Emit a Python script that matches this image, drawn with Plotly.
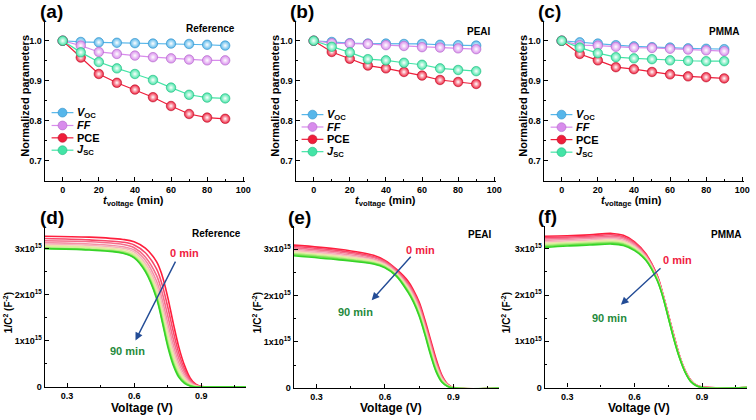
import plotly.graph_objects as go

# ---------------- data: normalized parameters vs time ----------------
t_min = [0, 10, 20, 30, 40, 50, 60, 70, 80, 90]

ref_voc = [1.0, 0.997, 0.996, 0.995, 0.994, 0.993, 0.993, 0.992, 0.990, 0.988]
ref_ff = [1.0, 0.988, 0.972, 0.967, 0.963, 0.959, 0.956, 0.953, 0.951, 0.951]
ref_pce = [1.0, 0.958, 0.917, 0.895, 0.878, 0.859, 0.837, 0.817, 0.808, 0.805]
ref_jsc = [1.0, 0.971, 0.947, 0.931, 0.917, 0.902, 0.883, 0.865, 0.858, 0.856]

peai_voc = [1.0, 0.997, 0.994, 0.993, 0.993, 0.992, 0.992, 0.990, 0.989, 0.988]
peai_ff = [1.0, 0.994, 0.993, 0.992, 0.989, 0.987, 0.984, 0.983, 0.981, 0.979]
peai_pce = [1.0, 0.972, 0.955, 0.938, 0.931, 0.922, 0.913, 0.902, 0.897, 0.892]
peai_jsc = [1.0, 0.985, 0.971, 0.954, 0.951, 0.945, 0.940, 0.931, 0.927, 0.924]

pmma_voc = [1.0, 0.996, 0.993, 0.989, 0.986, 0.984, 0.983, 0.981, 0.980, 0.979]
pmma_ff = [1.0, 0.989, 0.988, 0.985, 0.983, 0.982, 0.980, 0.978, 0.976, 0.974]
pmma_pce = [1.0, 0.967, 0.951, 0.934, 0.929, 0.922, 0.916, 0.911, 0.909, 0.906]
pmma_jsc = [1.0, 0.983, 0.969, 0.959, 0.956, 0.954, 0.951, 0.950, 0.949, 0.949]

# ---------------- data: 1/C^2 (in 1e15 F^-2) vs voltage ----------------
cv_times = [0, 10, 20, 30, 40, 50, 60, 70, 80, 90]

v_ref = [0.2, 0.4, 0.55, 0.6, 0.65, 0.7, 0.725, 0.75, 0.775, 0.8, 0.825, 0.85, 0.875, 0.9, 1.1]
cv_ref = [
    [3.27, 3.25, 3.20, 3.15, 3.01, 2.72, 2.42, 1.95, 1.38, 0.86, 0.47, 0.20, 0.06, 0.01, 0],
    [3.22, 3.19, 3.14, 3.08, 2.91, 2.56, 2.22, 1.74, 1.20, 0.73, 0.39, 0.16, 0.05, 0.01, 0],
    [3.17, 3.15, 3.09, 3.02, 2.82, 2.42, 2.05, 1.55, 1.04, 0.62, 0.33, 0.13, 0.04, 0.01, 0],
    [3.13, 3.10, 3.04, 2.97, 2.75, 2.30, 1.90, 1.39, 0.91, 0.52, 0.27, 0.11, 0.03, 0.005, 0],
    [3.10, 3.07, 3.01, 2.93, 2.68, 2.21, 1.78, 1.27, 0.80, 0.44, 0.22, 0.09, 0.02, 0, 0],
    [3.07, 3.04, 2.98, 2.89, 2.63, 2.13, 1.68, 1.16, 0.71, 0.38, 0.18, 0.07, 0.02, 0, 0],
    [3.05, 3.02, 2.95, 2.86, 2.59, 2.06, 1.59, 1.06, 0.63, 0.32, 0.15, 0.05, 0.01, 0, 0],
    [3.02, 2.99, 2.93, 2.83, 2.55, 1.99, 1.51, 0.98, 0.55, 0.27, 0.12, 0.04, 0.005, 0, 0],
    [3.01, 2.98, 2.91, 2.81, 2.52, 1.95, 1.46, 0.92, 0.51, 0.24, 0.10, 0.03, 0, 0, 0],
    [3.00, 2.97, 2.90, 2.80, 2.50, 1.92, 1.42, 0.88, 0.47, 0.21, 0.08, 0.02, 0, 0, 0],
]

v_peai = [0.2, 0.4, 0.55, 0.6, 0.65, 0.7, 0.725, 0.75, 0.775, 0.8, 0.825, 0.85, 0.875, 0.9, 1.1]
cv_peai = [
    [3.09, 3.00, 2.87, 2.76, 2.57, 2.32, 2.12, 1.86, 1.48, 1.05, 0.62, 0.28, 0.09, 0.02, 0],
    [3.06, 2.97, 2.84, 2.74, 2.55, 2.28, 2.08, 1.82, 1.43, 1.00, 0.58, 0.26, 0.08, 0.018, 0],
    [3.03, 2.94, 2.82, 2.72, 2.53, 2.25, 2.05, 1.78, 1.39, 0.96, 0.54, 0.24, 0.08, 0.016, 0],
    [3.00, 2.91, 2.79, 2.70, 2.51, 2.22, 2.02, 1.74, 1.35, 0.92, 0.51, 0.22, 0.07, 0.014, 0],
    [2.97, 2.88, 2.77, 2.68, 2.49, 2.20, 1.98, 1.70, 1.31, 0.88, 0.48, 0.20, 0.064, 0.012, 0],
    [2.945, 2.855, 2.75, 2.66, 2.475, 2.17, 1.955, 1.67, 1.28, 0.84, 0.45, 0.185, 0.06, 0.01, 0],
    [2.92, 2.83, 2.73, 2.64, 2.46, 2.145, 1.93, 1.64, 1.245, 0.81, 0.42, 0.17, 0.054, 0.009, 0],
    [2.90, 2.81, 2.71, 2.63, 2.445, 2.12, 1.90, 1.61, 1.215, 0.78, 0.40, 0.155, 0.05, 0.007, 0],
    [2.88, 2.79, 2.695, 2.61, 2.43, 2.10, 1.88, 1.58, 1.185, 0.75, 0.37, 0.14, 0.044, 0.006, 0],
    [2.86, 2.77, 2.68, 2.60, 2.42, 2.08, 1.86, 1.56, 1.16, 0.72, 0.35, 0.13, 0.04, 0.005, 0],
]

v_pmma = [0.2, 0.3, 0.4, 0.5, 0.55, 0.6, 0.65, 0.7, 0.725, 0.75, 0.775, 0.8, 0.825, 0.85, 0.875, 0.9, 1.1]
cv_pmma = [
    [3.27, 3.28, 3.30, 3.33, 3.29, 3.15, 2.89, 2.43, 2.04, 1.58, 1.12, 0.69, 0.37, 0.16, 0.05, 0.01, 0],
    [3.24, 3.25, 3.27, 3.30, 3.26, 3.13, 2.87, 2.42, 2.03, 1.57, 1.11, 0.68, 0.37, 0.16, 0.05, 0.01, 0],
    [3.21, 3.225, 3.245, 3.27, 3.235, 3.10, 2.855, 2.40, 2.02, 1.56, 1.10, 0.68, 0.36, 0.15, 0.05, 0.008, 0],
    [3.18, 3.20, 3.22, 3.24, 3.21, 3.08, 2.84, 2.39, 2.01, 1.55, 1.09, 0.67, 0.355, 0.15, 0.046, 0.006, 0],
    [3.15, 3.17, 3.19, 3.215, 3.18, 3.055, 2.82, 2.375, 2.005, 1.545, 1.08, 0.665, 0.35, 0.145, 0.045, 0.005, 0],
    [3.12, 3.14, 3.16, 3.19, 3.155, 3.03, 2.80, 2.36, 1.995, 1.535, 1.07, 0.66, 0.345, 0.14, 0.044, 0.004, 0],
    [3.095, 3.12, 3.14, 3.16, 3.13, 3.01, 2.79, 2.35, 1.99, 1.53, 1.06, 0.655, 0.34, 0.138, 0.043, 0.003, 0],
    [3.07, 3.10, 3.12, 3.14, 3.11, 2.99, 2.77, 2.34, 1.98, 1.52, 1.055, 0.65, 0.337, 0.135, 0.042, 0.002, 0],
    [3.05, 3.08, 3.10, 3.12, 3.09, 2.975, 2.76, 2.33, 1.975, 1.515, 1.045, 0.644, 0.333, 0.132, 0.041, 0.001, 0],
    [3.03, 3.06, 3.08, 3.10, 3.07, 2.96, 2.75, 2.32, 1.97, 1.51, 1.04, 0.64, 0.33, 0.13, 0.04, 0, 0],
]

cv_colors = ["#ff1f3d", "#f8486a", "#f56d8a", "#f590a5", "#f5b3be",
             "#f2dcb0", "#d9f09c", "#aeea7c", "#76e152", "#36d428"]

param_names = ["<i>V</i><sub>OC</sub>", "<i>FF</i>", "PCE", "<i>J</i><sub>SC</sub>"]
param_colors = ["#56b6ea", "#d88cec", "#ef1d3a", "#43e4a6"]
param_edges = ["#2f8fc8", "#b066c8", "#b8102a", "#20b880"]

FONT = "Liberation Sans, Arial, sans-serif"
W, H = 756, 420

fig = go.Figure()

top_sets = [
    ([ref_voc, ref_ff, ref_pce, ref_jsc], ""),
    ([peai_voc, peai_ff, peai_pce, peai_jsc], "2"),
    ([pmma_voc, pmma_ff, pmma_pce, pmma_jsc], "3"),
]
for series, ax in top_sets:
    for name, vals, col, edge in zip(param_names, series, param_colors, param_edges):
        fig.add_trace(go.Scatter(
            x=t_min, y=vals, name=name, mode="lines+markers", showlegend=False,
            xaxis="x" + ax, yaxis="y" + ax,
            line=dict(color=col, width=1.2),
            marker=dict(size=9.5, color=col, line=dict(color=edge, width=0.6),
                        gradient=dict(type="radial", color="#ffffff")),
        ))

bottom_sets = [(v_ref, cv_ref, "4"), (v_peai, cv_peai, "5"), (v_pmma, cv_pmma, "6")]
for vgrid, curves, ax in bottom_sets:
    for tm, curve, col in zip(cv_times, curves, cv_colors):
        fig.add_trace(go.Scatter(
            x=vgrid, y=[c * 1e15 for c in curve], mode="lines", showlegend=False,
            name=f"{tm} min", xaxis="x" + ax, yaxis="y" + ax,
            line=dict(color=col, width=1.6, shape="spline", smoothing=1.0),
        ))

def px(x):
    return x / W

def py(y):
    return 1 - y / H

tickfont = dict(family=FONT, size=9, color="black", weight="bold")
axis_common = dict(showline=True, linecolor="black", linewidth=1.3, ticks="inside",
                   ticklen=4, tickwidth=1, tickcolor="black", showgrid=False,
                   zeroline=False, tickfont=tickfont, mirror=False)

top_dom_x = [(45, 247), (298, 500), (548, 750)]
top_dom_y = [py(183), py(21)]
for i, (x0, x1) in enumerate(top_dom_x):
    s = "" if i == 0 else str(i + 1)
    fig.update_layout(**{
        "xaxis" + s: dict(axis_common, domain=[px(x0), px(x1)], range=[-10, 101],
                          tick0=0, dtick=20, anchor="y" + s,
                          minor=dict(dtick=10, tick0=0, ticks="inside", ticklen=2, tickcolor="black")),
        "yaxis" + s: dict(axis_common, domain=top_dom_y, range=[0.65, 1.05],
                          tick0=0.7, dtick=0.1, tickformat=".1f", anchor="x" + s,
                          minor=dict(dtick=0.05, tick0=0.7, ticks="inside", ticklen=2, tickcolor="black")),
    })

bot_dom_x = [(45, 248), (296, 503), (549, 753)]
bot_dom_y = [(391.7, 228.3), (393, 228.8), (392.3, 228.3)]
ytv = [0, 1e15, 2e15, 3e15]
ytt = ["0", "1x10<sup>15</sup>", "2x10<sup>15</sup>", "3x10<sup>15</sup>"]
for i, ((x0, x1), (yb, yt)) in enumerate(zip(bot_dom_x, bot_dom_y)):
    s = str(i + 4)
    fig.update_layout(**{
        "xaxis" + s: dict(axis_common, domain=[px(x0), px(x1)], range=[0.2, 1.1],
                          tick0=0.3, dtick=0.3, tickformat=".1f", anchor="y" + s,
                          minor=dict(dtick=0.15, tick0=0.0, ticks="inside", ticklen=2, tickcolor="black")),
        "yaxis" + s: dict(axis_common, domain=[py(yb), py(yt)], range=[0, 3.5e15],
                          tickmode="array", tickvals=ytv, ticktext=ytt, anchor="x" + s,
                          minor=dict(tickmode="array", tickvals=[0.5e15, 1.5e15, 2.5e15, 3.5e15],
                                     ticks="inside", ticklen=2, tickcolor="black")),
    })

annotations = []
shapes = []

def ann(text, x, y, size=11, color="black", angle=0, xanchor="center", yanchor="middle"):
    annotations.append(dict(text=text, x=px(x), y=py(y), xref="paper", yref="paper",
                            showarrow=False, textangle=angle, xanchor=xanchor, yanchor=yanchor,
                            font=dict(family=FONT, size=size, color=color, weight="bold")))

# panel letters
for lab, x, y in [("(a)", 52, 12), ("(b)", 304, 12), ("(c)", 554, 12),
                  ("(d)", 52, 220), ("(e)", 302, 220), ("(f)", 552, 219)]:
    ann(lab, x, y, size=19)

# sample names
for lab, x, y in [("Reference", 239, 29), ("PEAI", 497, 32), ("PMMA", 748, 32),
                  ("Reference", 245, 236), ("PEAI", 498, 237), ("PMMA", 750, 237)]:
    ann(lab, x, y, size=10, xanchor="right")

# axis titles
for x in [25, 277, 527]:
    ann("Normalized parameters", x, 97, size=11, angle=-90)
for x in [135, 389, 637]:
    ann("<i>t</i><sub>voltage</sub> (min)", x, 203, size=11)
for x, y in [(143, 412.5), (394, 413.3), (644, 412.5)]:
    ann("Voltage (V)", x, y, size=12)
for x in [8, 259, 510]:
    ann("1/C<sup>2</sup> (F<sup>-2</sup>)", x, 316, size=10, angle=-90)

# compact legends (line + ball + label) for the three upper panels
legend_slots = [(63, [114, 127, 139.5, 152]), (315, [116, 128.5, 141, 153.5]),
                (566, [116, 128.7, 141.3, 154])]
for xm, ys in legend_slots:
    for name, col, edge, yy in zip(param_names, param_colors, param_edges, ys):
        shapes.append(dict(type="line", xref="paper", yref="paper",
                           x0=px(xm - 11), x1=px(xm + 11), y0=py(yy), y1=py(yy),
                           line=dict(color=col, width=1.2)))
        shapes.append(dict(type="circle", xref="paper", yref="paper",
                           x0=px(xm - 4.5), x1=px(xm + 4.5), y0=py(yy + 4.5), y1=py(yy - 4.5),
                           fillcolor=col, line=dict(color=edge, width=0.6)))
        annotations.append(dict(text=name, x=px(xm + 13), y=py(yy), xref="paper", yref="paper",
                                showarrow=False, xanchor="left", yanchor="middle",
                                font=dict(family=FONT, size=11, color="black", weight="bold")))

# arrows and time labels (in data coordinates of the C-V panels)
arrow_specs = [
    ("4", (0.788, 2.75), (0.606, 1.01), (0.825, 2.91), (0.569, 0.79)),
    ("5", (0.719, 2.87), (0.542, 1.90), (0.755, 2.98), (0.473, 1.64)),
    ("6", (0.722, 2.61), (0.539, 1.79), (0.789, 2.75), (0.487, 1.51)),
]
for s, start, end, lab0, lab90 in arrow_specs:
    annotations.append(dict(x=end[0], y=end[1] * 1e15, ax=start[0], ay=start[1] * 1e15,
                            xref="x" + s, yref="y" + s, axref="x" + s, ayref="y" + s,
                            text="", showarrow=True, arrowhead=2, arrowsize=1.1,
                            arrowwidth=1.4, arrowcolor="#234c96"))
    annotations.append(dict(x=lab0[0], y=lab0[1] * 1e15, xref="x" + s, yref="y" + s,
                            text="0 min", showarrow=False,
                            font=dict(family=FONT, size=11, color="#f0213f", weight="bold")))
    annotations.append(dict(x=lab90[0], y=lab90[1] * 1e15, xref="x" + s, yref="y" + s,
                            text="90 min", showarrow=False,
                            font=dict(family=FONT, size=11, color="#1f8a3c", weight="bold")))

fig.update_layout(
    width=W, height=H, margin=dict(l=0, r=0, t=0, b=0),
    paper_bgcolor="white", plot_bgcolor="white",
    annotations=annotations, shapes=shapes,
    showlegend=False,
)

fig.write_html("out.html", config={"displayModeBar": False},
               post_script="document.body.style.margin='0';document.body.style.overflow='hidden';")
